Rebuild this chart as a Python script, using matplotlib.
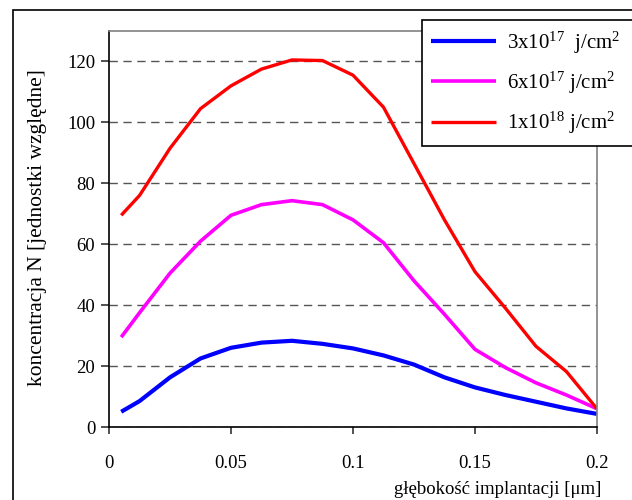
import matplotlib
matplotlib.use('Agg')
import matplotlib.pyplot as plt
from matplotlib.patches import Rectangle

plt.rcParams['font.family'] = ['Liberation Serif', 'DejaVu Serif']
plt.rcParams['mathtext.fontset'] = 'custom'
plt.rcParams['mathtext.rm'] = 'Liberation Serif'
plt.rcParams['mathtext.it'] = 'Liberation Serif'

# depth [um]
depth = [0.005, 0.0125, 0.025, 0.0375, 0.05, 0.0625, 0.075, 0.0875, 0.1,
         0.1125, 0.125, 0.1375, 0.15, 0.1625, 0.175, 0.1875, 0.2]

dose_3e17 = [5.0, 8.5, 16.3, 22.5, 26.0, 27.7, 28.3, 27.3, 25.8,
             23.5, 20.5, 16.3, 13.0, 10.5, 8.3, 6.1, 4.3]
dose_6e17 = [29.5, 37.5, 50.5, 61.0, 69.5, 73.0, 74.3, 73.0, 68.0,
             60.5, 48.0, 37.0, 25.5, 19.5, 14.5, 10.5, 6.0]
dose_1e18 = [69.5, 76.0, 91.5, 104.5, 112.0, 117.5, 120.5, 120.3, 115.5,
             105.0, 86.5, 68.0, 51.0, 39.0, 26.5, 18.2, 6.0]

labels = ['3x10$^{17}$  j/cm$^{2}$', '6x10$^{17}$ j/cm$^{2}$', '1x10$^{18}$ j/cm$^{2}$']
colors = ['#0000ff', '#ff00ff', '#ff0000']

x_ticks = [0, 0.05, 0.1, 0.15, 0.2]
x_tick_labels = ['0', '0.05', '0.1', '0.15', '0.2']
y_ticks = [0, 20, 40, 60, 80, 100, 120]

fig = plt.figure(figsize=(6.32, 5.0), dpi=100)
ax = fig.add_axes([0.1725, 0.146, 0.772, 0.792])

# outer frame of the figure
fig.patches.append(Rectangle((13 / 632, -0.1), 1.2, 0.98 + 0.1, transform=fig.transFigure,
                             fill=False, edgecolor='black', linewidth=1.2, clip_on=False))

ax.plot(depth, dose_3e17, color=colors[0], lw=3.0, label=labels[0], solid_capstyle='butt')
ax.plot(depth, dose_6e17, color=colors[1], lw=2.6, label=labels[1], solid_capstyle='butt')
ax.plot(depth, dose_1e18, color=colors[2], lw=2.4, label=labels[2], solid_capstyle='butt')

ax.set_xlim(0, 0.2)
ax.set_ylim(0, 130)
ax.set_xticks(x_ticks)
ax.set_xticklabels(x_tick_labels)
ax.set_yticks(y_ticks)

ax.yaxis.grid(True, linestyle=(0, (6, 4)), color='#555555', linewidth=1.0)
ax.set_axisbelow(True)

ax.spines['left'].set_color('black')
ax.spines['bottom'].set_color('black')
ax.spines['top'].set_color('#808080')
ax.spines['right'].set_color('#808080')
for s in ax.spines.values():
    s.set_linewidth(1.2)

ax.tick_params(axis='x', direction='out', length=5, width=1.2, color='#333333',
               labelsize=13.5, pad=15)
ax.tick_params(axis='y', direction='out', length=6, width=1.2, color='#333333',
               labelsize=13.5, pad=4)

fig.text(0.06, 0.545, 'koncentracja N [jednostki względne]', rotation=90,
         ha='center', va='center', fontsize=15.5)
fig.text(0.952, 0.022, 'głębokość implantacji [μm]', ha='right', va='center',
         fontsize=13.5)

leg = ax.legend(loc='upper left',
                bbox_to_anchor=(422 / 632, 1 - 144 / 500, 0.4, 124 / 500),
                bbox_transform=fig.transFigure, mode='expand', fontsize=15,
                frameon=True, fancybox=False, shadow=False, framealpha=1,
                edgecolor='black', handlelength=3.1, handletextpad=0.55,
                labelspacing=0.68, borderpad=0.45, borderaxespad=0)
leg.get_frame().set_linewidth(1.2)

fig.savefig('out.png', dpi=100)
